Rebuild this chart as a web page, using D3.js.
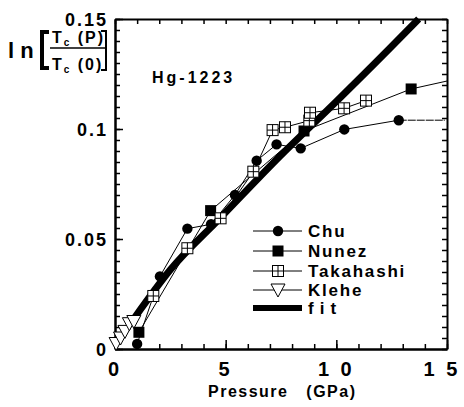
<!DOCTYPE html>
<html>
<head>
<meta charset="utf-8">
<script src="https://cdn.jsdelivr.net/npm/d3@7"></script>
<style>
  body { margin: 0; background: #fff; }
  text { font-family: "Liberation Sans", Arial, sans-serif; font-weight: bold; fill: #000; }
</style>
</head>
<body>
<div id="chart"></div>
<script>
// data: pressure (GPa) vs ln[Tc(P)/Tc(0)]
var chuP = [1.0, 2.03, 3.27, 4.34, 5.42, 6.4, 7.3, 8.39, 10.36, 12.82];
var chuV = [0.0023, 0.033, 0.0547, 0.0567, 0.070, 0.0856, 0.093, 0.0912, 0.0998, 0.104];
var chuTailP = [12.82, 14.9];
var chuTailV = [0.104, 0.104];

var nunezP = [1.08, 4.32, 8.54, 13.38];
var nunezV = [0.0076, 0.0629, 0.0991, 0.1182];
var nunezTailP = [13.38, 15];
var nunezTailV = [0.1182, 0.1218];

var takaP = [1.73, 3.27, 4.77, 6.25, 7.12, 7.68, 8.78, 8.81, 10.35, 11.34];
var takaV = [0.0241, 0.0458, 0.0594, 0.0806, 0.0995, 0.1008, 0.1038, 0.1074, 0.1094, 0.1129];

var kleheP = [0.05, 0.25, 0.45, 0.65, 0.85];
var kleheV = [0.0025, 0.005, 0.008, 0.0115, 0.0125];

var fitP = [0.87, 2.5, 4.75, 7.46, 10, 12.35, 13.72];
var fitV = [0.014, 0.036, 0.0595, 0.0877, 0.1125, 0.136, 0.150];

var xTicks = [0, 5, 10, 15];
var yTicks = [0, 0.05, 0.1, 0.15];
var legendNames = ["Chu", "Nunez", "Takahashi", "Klehe", "fit"];

var W = 464, H = 407;
var svg = d3.select("#chart").append("svg").attr("width", W).attr("height", H);

var x = d3.scaleLinear().domain([0, 15]).range([115, 447]);
var y = d3.scaleLinear().domain([0, 0.15]).range([349, 19]);

function pts(px, py) { return px.map(function (p, i) { return [p, py[i]]; }); }

// ---- axes (ticks point inward on all four sides) ----
var xMinor = d3.range(0, 15.01, 1);
var yMinor = d3.range(0, 0.1501, 0.005);

function styleAxis(g) {
  g.select(".domain").attr("stroke-width", 2);
  g.selectAll(".tick line").attr("stroke-width", 1.5);
  g.selectAll("text").remove();
}
svg.append("g").attr("transform", "translate(0," + y(0) + ")")
  .call(d3.axisBottom(x).tickValues(xMinor).tickSize(-5).tickSizeOuter(0)).call(styleAxis);
svg.append("g").attr("transform", "translate(0," + y(0) + ")")
  .call(d3.axisBottom(x).tickValues(xTicks).tickSize(-9).tickSizeOuter(0)).call(styleAxis);
svg.append("g").attr("transform", "translate(0," + y(0.15) + ")")
  .call(d3.axisTop(x).tickValues(xMinor).tickSize(-5).tickSizeOuter(0)).call(styleAxis);
svg.append("g").attr("transform", "translate(" + x(0) + ",0)")
  .call(d3.axisLeft(y).tickValues(yMinor).tickSize(-5).tickSizeOuter(0)).call(styleAxis);
svg.append("g").attr("transform", "translate(" + x(0) + ",0)")
  .call(d3.axisLeft(y).tickValues(yTicks).tickSize(-8).tickSizeOuter(0)).call(styleAxis);
svg.append("g").attr("transform", "translate(" + x(15) + ",0)")
  .call(d3.axisRight(y).tickValues(yMinor).tickSize(-5).tickSizeOuter(0)).call(styleAxis);

// tick labels (last one pulled in so it stays on the page)
svg.selectAll(".xlab").data(xTicks).enter().append("text")
  .attr("x", function (d) { return Math.min(x(d), 442); })
  .attr("y", 376)
  .attr("text-anchor", "middle")
  .attr("font-size", "20px")
  .style("letter-spacing", "3px")
  .attr("xml:space", "preserve")
  .text(function (d) { return String(d).split("").join(" "); });

svg.selectAll(".ylab").data(yTicks).enter().append("text")
  .attr("x", 108)
  .attr("y", function (d) { return y(d) + 7; })
  .attr("text-anchor", "end")
  .attr("font-size", "18px")
  .style("letter-spacing", "2px")
  .text(function (d) { return d === 0 ? "0" : String(d); });

svg.append("text").attr("x", 208).attr("y", 397)
  .attr("font-size", "16px").style("letter-spacing", "1.5px")
  .attr("xml:space", "preserve")
  .text("Pressure   (GPa)");

// y axis title ln[ Tc(P) / Tc(0) ]
var yt = svg.append("g");
yt.append("text").attr("x", 8).attr("y", 58).attr("font-size", "22px")
  .attr("xml:space", "preserve").text("l n");
yt.append("path").attr("d", "M49,32 L42,32 L42,68 L49,68")
  .attr("fill", "none").attr("stroke", "#000").attr("stroke-width", 4);
yt.append("text").attr("x", 52).attr("y", 43).attr("font-size", "16px")
  .attr("xml:space", "preserve").style("letter-spacing", "2px")
  .html('T<tspan font-size="10px" dy="3">c</tspan><tspan dy="-3"> (P)</tspan>');
yt.append("text").attr("x", 52).attr("y", 70).attr("font-size", "16px")
  .attr("xml:space", "preserve").style("letter-spacing", "2px")
  .html('T<tspan font-size="10px" dy="3">c</tspan><tspan dy="-3"> (0)</tspan>');
yt.append("line").attr("x1", 50).attr("x2", 106).attr("y1", 48).attr("y2", 48)
  .attr("stroke", "#000").attr("stroke-width", 1.5);
yt.append("path").attr("d", "M101,31 L106,31 L106,70 L101,70")
  .attr("fill", "none").attr("stroke", "#000").attr("stroke-width", 2);

svg.append("text").attr("x", 152).attr("y", 83).attr("font-size", "16px")
  .style("letter-spacing", "3px").text("Hg-1223");

// ---- series ----
var line = d3.line().x(function (d) { return x(d[0]); }).y(function (d) { return y(d[1]); });

svg.append("path").datum(pts(fitP, fitV))
  .attr("d", line.curve(d3.curveMonotoneX))
  .attr("fill", "none").attr("stroke", "#000").attr("stroke-width", 7);
line.curve(d3.curveLinear);

function thin(data, dash) {
  svg.append("path").datum(data).attr("d", line)
    .attr("fill", "none").attr("stroke", "#000").attr("stroke-width", 1)
    .attr("stroke-dasharray", dash || null);
}
thin(pts(kleheP, kleheV));
thin(pts(chuP, chuV));
thin(pts(chuTailP, chuTailV), "8,1");
thin(pts(nunezP, nunezV));
thin(pts(nunezTailP, nunezTailV));
thin(pts(takaP, takaV));

function circle(g, cx, cy) {
  g.append("circle").attr("cx", cx).attr("cy", cy).attr("r", 5.2).attr("fill", "#000");
}
function square(g, cx, cy) {
  g.append("rect").attr("x", cx - 5.5).attr("y", cy - 5.5).attr("width", 11).attr("height", 11).attr("fill", "#000");
}
function crossSquare(g, cx, cy) {
  g.append("rect").attr("x", cx - 5.5).attr("y", cy - 5.5).attr("width", 11).attr("height", 11)
    .attr("fill", "#fff").attr("stroke", "#000").attr("stroke-width", 1);
  g.append("path").attr("d", "M" + cx + "," + (cy - 5.5) + "V" + (cy + 5.5) + "M" + (cx - 5.5) + "," + cy + "H" + (cx + 5.5))
    .attr("stroke", "#000").attr("stroke-width", 1);
}
function triangle(g, cx, cy) {
  g.append("path").attr("d", "M" + (cx - 7) + "," + (cy - 6) + "L" + (cx + 7) + "," + (cy - 6) + "L" + cx + "," + (cy + 7) + "Z")
    .attr("fill", "#fff").attr("stroke", "#000").attr("stroke-width", 1);
}

var mk = svg.append("g");
pts(kleheP, kleheV).forEach(function (d) { triangle(mk, x(d[0]), y(d[1])); });
pts(chuP, chuV).forEach(function (d) { circle(mk, x(d[0]), y(d[1])); });
pts(nunezP, nunezV).forEach(function (d) { square(mk, x(d[0]), y(d[1])); });
pts(takaP, takaV).forEach(function (d) { crossSquare(mk, x(d[0]), y(d[1])); });

// ---- legend ----
var legY = [231, 251, 271, 290, 308];
var markers = [circle, square, crossSquare, triangle, null];
var leg = svg.append("g");
legendNames.forEach(function (name, i) {
  leg.append("line").attr("x1", 253).attr("x2", 302).attr("y1", legY[i]).attr("y2", legY[i])
    .attr("stroke", "#000").attr("stroke-width", markers[i] ? 1 : 6);
  if (markers[i]) markers[i](leg, 278, legY[i]);
  leg.append("text").attr("x", 308).attr("y", legY[i] + 6)
    .attr("font-size", "17px").style("letter-spacing", name === "fit" ? "6px" : "1.8px")
    .text(name);
});
</script>
</body>
</html>
